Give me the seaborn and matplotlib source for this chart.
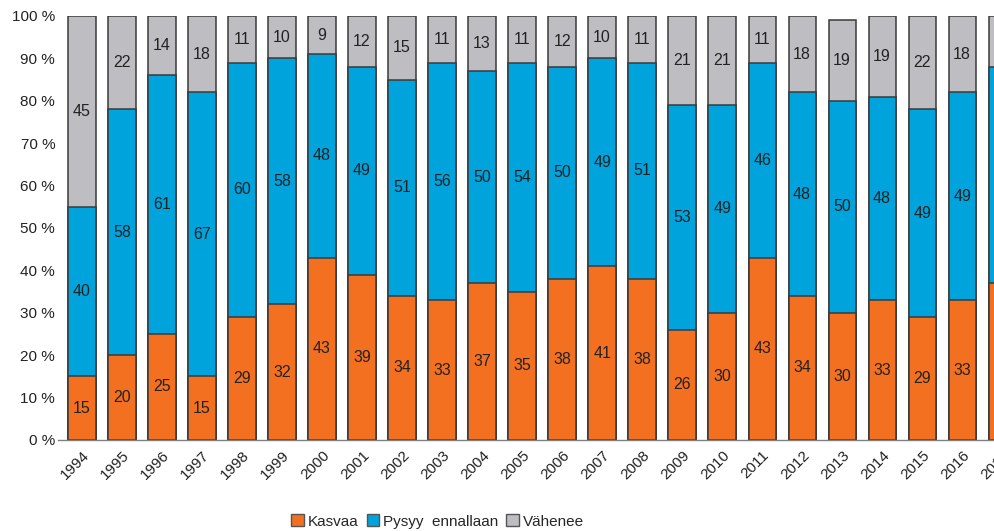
import pandas as pd
import matplotlib.pyplot as plt
import matplotlib.ticker as ticker
from matplotlib.patches import Patch
import seaborn as sns

# Survey answers per year (%)
years = [str(y) for y in range(1994, 2018)]
kasvaa = [15, 20, 25, 15, 29, 32, 43, 39, 34, 33, 37, 35, 38, 41, 38, 26, 30, 43, 34, 30, 33, 29, 33, 37]
pysyy = [40, 58, 61, 67, 60, 58, 48, 49, 51, 56, 50, 54, 50, 49, 51, 53, 49, 46, 48, 50, 48, 49, 49, 51]
vahenee = [45, 22, 14, 18, 11, 10, 9, 12, 15, 11, 13, 11, 12, 10, 11, 21, 21, 11, 18, 19, 19, 22, 18, 12]
series_names = ["Kasvaa", "Pysyy  ennallaan", "Vähenee"]
colors = ["#F37021", "#00A3DB", "#BEBEC2"]

df = pd.DataFrame({"year": years, "kasvaa": kasvaa, "pysyy": pysyy, "vahenee": vahenee})
df["c1"] = df["kasvaa"]
df["c2"] = df["kasvaa"] + df["pysyy"]
df["c3"] = df["c2"] + df["vahenee"]

sns.set_style("white")
plt.rcParams["font.family"] = ["Liberation Sans", "DejaVu Sans"]

fig = plt.figure(figsize=(9.95, 5.31), dpi=100, facecolor="white")
ax = fig.add_axes([0.0583, 0.1714, 0.973, 0.7985])

edge = "#3a3a3a"
# stacked bars: draw cumulative totals from the top segment down
for col, c in zip(["c3", "c2", "c1"], colors[::-1]):
    sns.barplot(data=df, x="year", y=col, color=c, saturation=1, width=0.68,
                edgecolor=edge, linewidth=1.1, ax=ax, order=years)

# value labels in the middle of each segment
for i, row in df.iterrows():
    ax.text(i, row["kasvaa"] / 2, str(row["kasvaa"]), ha="center", va="center", fontsize=11.5, color="#222222")
    ax.text(i, row["c1"] + row["pysyy"] / 2, str(row["pysyy"]), ha="center", va="center", fontsize=11.5, color="#222222")
    ax.text(i, row["c2"] + row["vahenee"] / 2, str(row["vahenee"]), ha="center", va="center", fontsize=11.5, color="#222222")

ax.set_xlim(-0.6, 23.6)
ax.set_ylim(0, 100)
ax.yaxis.set_major_locator(ticker.MultipleLocator(10))
ax.yaxis.set_major_formatter(ticker.FuncFormatter(lambda v, p: f"{int(v)} %"))
ax.set_xlabel("")
ax.set_ylabel("")
for s in ["top", "right", "left"]:
    ax.spines[s].set_visible(False)
ax.spines["bottom"].set_color("#808080")
ax.spines["bottom"].set_linewidth(1)
ax.tick_params(axis="y", length=0, labelsize=11, pad=2, colors="#222222")
ax.tick_params(axis="x", length=0, labelsize=11, pad=6, colors="#222222")
plt.setp(ax.get_xticklabels(), rotation=45, ha="right", rotation_mode="anchor")

handles = [Patch(facecolor=c, edgecolor="#555555", linewidth=1) for c in colors]
fig.legend(handles, series_names, loc="center", bbox_to_anchor=(0.44, 0.018), ncol=3,
           frameon=False, fontsize=11, handlelength=0.8, handleheight=0.8,
           handletextpad=0.3, columnspacing=0.5)

fig.savefig("out.png", dpi=100)
